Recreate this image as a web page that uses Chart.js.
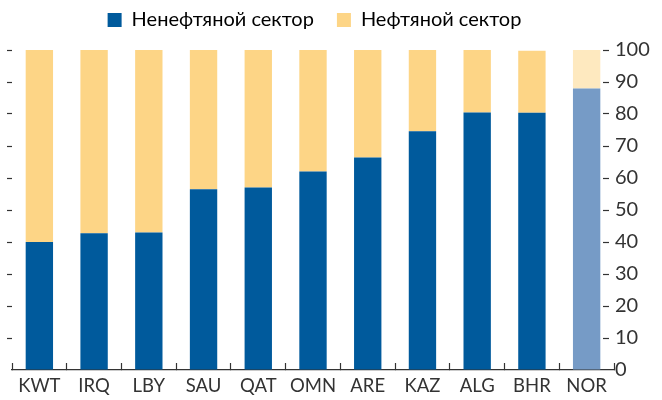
<!DOCTYPE html>
<html>
<head>
<meta charset="utf-8">
<script src="https://cdn.jsdelivr.net/npm/chart.js@4/dist/chart.umd.min.js"></script>
<style>
    html, body { margin: 0; padding: 0; background: #fff; }
    #wrap { width: 662px; height: 400px; }
</style>
</head>
<body>
<div id="wrap"><canvas id="myGraph"></canvas></div>
<script>
// Данные графика
const countries = ["KWT", "IRQ", "LBY", "SAU", "QAT", "OMN", "ARE", "KAZ", "ALG", "BHR", "NOR"];
const nonOil = [40, 42.7, 43, 56.5, 57, 62, 66.4, 74.6, 80.5, 80.4, 88];
const oil = [60, 57.3, 57, 43.5, 43, 38, 33.6, 25.4, 20.2, 19.4, 12];
const yTicks = [0, 10, 20, 30, 40, 50, 60, 70, 80, 90, 100];

// Цвета: у Норвегии светлее
const blue = countries.map((c) => (c === "NOR" ? "#769bc6" : "#005a9c"));
const yellow = countries.map((c) => (c === "NOR" ? "#fee9bf" : "#fdd586"));

const textColor = "#333333";
const fontFamily = "Lato, 'Open Sans', sans-serif";

const ctx = document.getElementById("myGraph").getContext("2d");

// отступ под легендой и сдвиг легенды влево
const legendGap = {
    id: "legendGap",
    beforeInit(chart) {
        const fitValue = chart.legend.fit;
        chart.legend.fit = function fit() {
            fitValue.bind(chart.legend)();
            this.height += 10;
        };
    },
    beforeDraw(chart) {
        if (!chart.legend._shifted) {
            chart.legend.left -= 20;
            chart.legend.right -= 20;
            chart.legend._shifted = true;
        }
    },
};

const myGraph = new Chart(ctx, {
    type: "bar",
    data: {
        labels: countries,
        datasets: [
            {
                label: "Ненефтяной сектор",
                data: nonOil,
                backgroundColor: blue,
                barPercentage: 0.5,
                categoryPercentage: 1,
            },
            {
                label: "Нефтяной сектор",
                data: oil,
                backgroundColor: yellow,
                barPercentage: 0.5,
                categoryPercentage: 1,
            },
        ],
    },
    plugins: [legendGap],
    options: {
        responsive: true,
        maintainAspectRatio: false,
        animation: false,
        layout: { padding: { top: -13, left: 12, right: 5, bottom: 0 } },
        plugins: {
            tooltip: { enabled: false },
            legend: {
                position: "top",
                labels: {
                    boxWidth: 14,
                    boxHeight: 14,
                    padding: 23,
                    color: textColor,
                    font: { family: fontFamily, size: 20 },
                    // легенда по цвету основной серии
                    generateLabels: (chart) =>
                        chart.data.datasets.map((ds, i) => ({
                            text: ds.label,
                            fillStyle: i === 0 ? "#005a9c" : "#fdd586",
                            strokeStyle: "rgba(0,0,0,0)",
                            lineWidth: 0,
                            datasetIndex: i,
                        })),
                },
            },
        },
        scales: {
            x: {
                stacked: true,
                offset: true,
                afterFit: (axis) => {
                    axis.height = 30;
                },
                border: { display: true, color: textColor, width: 1.2 },
                grid: {
                    offset: true,
                    drawOnChartArea: false,
                    drawTicks: true,
                    tickLength: -7,
                    tickColor: textColor,
                    tickWidth: 1.2,
                },
                ticks: {
                    color: textColor,
                    padding: 12,
                    font: { family: fontFamily, size: 18.5 },
                },
            },
            yL: {
                type: "linear",
                position: "left",
                stacked: true,
                min: 0,
                max: 100,
                afterBuildTicks: (axis) => {
                    axis.ticks = yTicks.map((v) => ({ value: v }));
                },
                border: { display: false },
                grid: {
                    drawOnChartArea: false,
                    tickLength: -5,
                    tickColor: (c) => (c.tick.value === 0 ? "rgba(0,0,0,0)" : textColor),
                    tickWidth: 1.2,
                },
                ticks: { display: false },
            },
            y: {
                type: "linear",
                position: "right",
                stacked: true,
                min: 0,
                max: 100,
                afterBuildTicks: (axis) => {
                    axis.ticks = yTicks.map((v) => ({ value: v }));
                },
                afterFit: (axis) => {
                    axis.width = 43;
                },
                border: { display: false },
                grid: {
                    drawOnChartArea: false,
                    tickLength: -6,
                    tickColor: (c) => (c.tick.value === 0 ? "rgba(0,0,0,0)" : textColor),
                    tickWidth: 1.2,
                },
                ticks: {
                    color: textColor,
                    padding: 12,
                    font: { family: fontFamily, size: 20 },
                },
            },
        },
    },
});
</script>
</body>
</html>
